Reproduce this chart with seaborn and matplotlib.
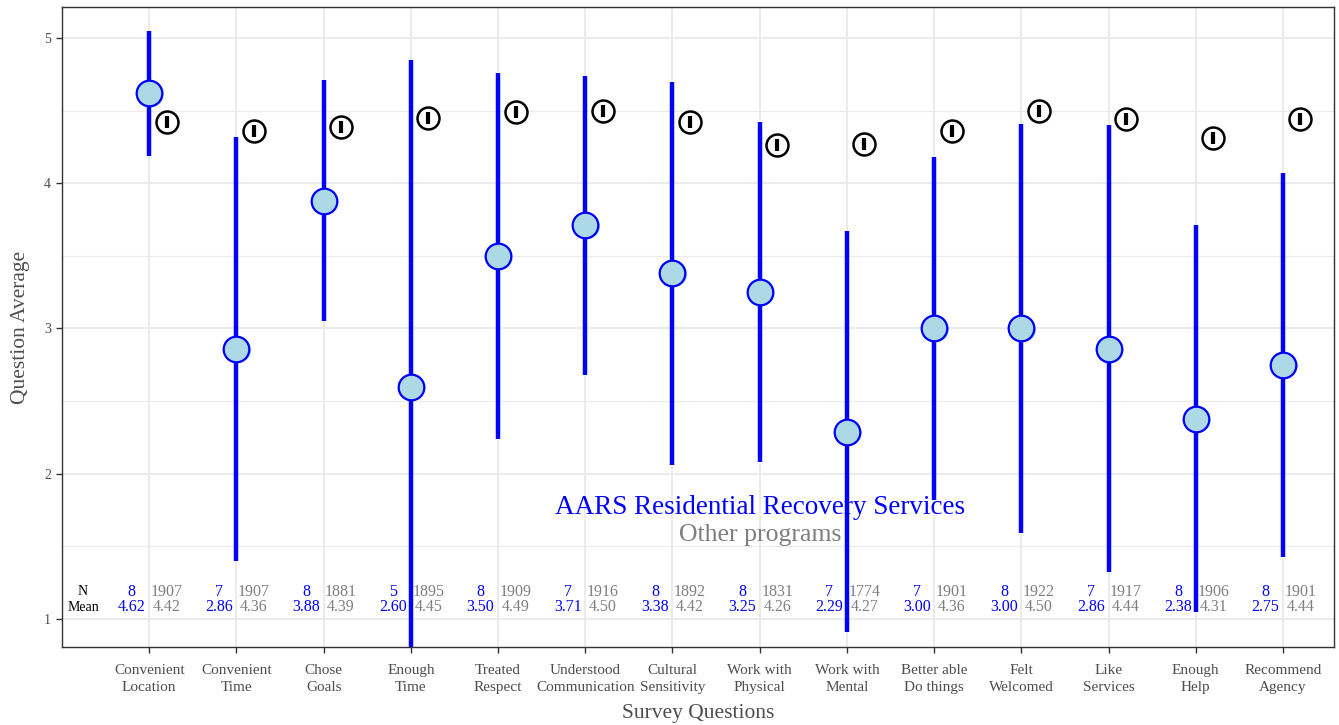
import matplotlib
matplotlib.use("Agg")
import matplotlib.pyplot as plt
from matplotlib.transforms import offset_copy
from matplotlib.ticker import MultipleLocator
import numpy as np
import pandas as pd
import seaborn as sns

# Survey questions (two-line tick labels)
questions = ["Convenient\nLocation", "Convenient\nTime", "Chose\nGoals", "Enough\nTime",
             "Treated\nRespect", "Understood\nCommunication", "Cultural\nSensitivity",
             "Work with\nPhysical", "Work with\nMental", "Better able\nDo things",
             "Felt\nWelcomed", "Like\nServices", "Enough\nHelp", "Recommend\nAgency"]

# Program of interest
prog_n = [8, 7, 8, 5, 8, 7, 8, 8, 7, 7, 8, 7, 8, 8]
prog_mean = [4.62, 2.86, 3.88, 2.60, 3.50, 3.71, 3.38, 3.25, 2.29, 3.00, 3.00, 2.86, 2.38, 2.75]
prog_sd = [0.43, 1.46, 0.83, 2.25, 1.26, 1.03, 1.32, 1.17, 1.38, 1.18, 1.41, 1.54, 1.33, 1.32]

# Comparison: all other programs
other_n = [1907, 1907, 1881, 1895, 1909, 1916, 1892, 1831, 1774, 1901, 1922, 1917, 1906, 1901]
other_mean = [4.42, 4.36, 4.39, 4.45, 4.49, 4.50, 4.42, 4.26, 4.27, 4.36, 4.50, 4.44, 4.31, 4.44]

program_name = "AARS Residential Recovery Services"
other_name = "Other programs"

pos = np.arange(1, len(questions) + 1)
df = pd.DataFrame({"pos": pos, "mean": prog_mean, "sd": prog_sd, "n": prog_n,
                   "other_pos": pos + 0.2, "other_mean": other_mean, "other_n": other_n})

sns.set_theme(style="whitegrid")
plt.rcParams["font.family"] = ["Liberation Serif", "DejaVu Serif"]

fig = plt.figure(figsize=(13.39, 7.25), dpi=100)
ax = fig.add_axes([62 / 1339, 1 - 647 / 725, (1334 - 62) / 1339, (647 - 7) / 725])

BLUE = "#0000FF"
GREY = "#7F7F7F"
TICKGREY = "#4D4D4D"

# Grid (major + minor), bw-style panel
ax.set_axisbelow(True)
ax.yaxis.set_minor_locator(MultipleLocator(0.5))
ax.grid(which="major", color="#EBEBEB", linewidth=1.4)
ax.grid(which="minor", axis="y", color="#EBEBEB", linewidth=0.8)

# Mean +/- SD bars
ax.vlines(df["pos"], df["mean"] - df["sd"], df["mean"] + df["sd"],
          color=BLUE, linewidth=3.2, zorder=2)

# Program means: soft halo then main point
halo = offset_copy(ax.transData, fig=fig, x=2, y=-1, units="dots")
ax.scatter(df["pos"], df["mean"], s=340, color="#ADD8E6", edgecolor="none",
           transform=halo, zorder=3)
sns.scatterplot(data=df, x="pos", y="mean", ax=ax, s=340, color="#ADD8E6",
                edgecolor=BLUE, linewidth=1.6, zorder=4, legend=False)

# Other program means: ring with a bar inside
sns.scatterplot(data=df, x="other_pos", y="other_mean", ax=ax, s=250, color="white",
                edgecolor="black", linewidth=1.8, zorder=4, legend=False)
ax.scatter(df["other_pos"], df["other_mean"], marker="|", s=70, color="black",
           linewidths=3.0, zorder=5)

# N / Mean table along the bottom
ax.text(0.24, 1.186, "N", ha="center", va="center", fontsize=10, color="black")
ax.text(0.24, 1.08, "Mean", ha="center", va="center", fontsize=10, color="black")
for p, n, m, on, om in zip(pos, prog_n, prog_mean, other_n, other_mean):
    ax.text(p - 0.2, 1.186, f"{n}", ha="center", va="center", fontsize=11.5, color=BLUE)
    ax.text(p - 0.2, 1.08, f"{m:.2f}", ha="center", va="center", fontsize=11.5, color=BLUE)
    ax.text(p + 0.2, 1.186, f"{on}", ha="center", va="center", fontsize=11.5, color=GREY)
    ax.text(p + 0.2, 1.08, f"{om:.2f}", ha="center", va="center", fontsize=11.5, color=GREY)

# Legend-style captions
ax.text(8, 1.77, program_name, ha="center", va="center", fontsize=19.5, color=BLUE)
ax.text(8, 1.575, other_name, ha="center", va="center", fontsize=18.5, color=GREY)

ax.set_xlim(0.0, 14.585)
ax.set_ylim(0.807, 5.213)
ax.set_xticks(pos)
ax.set_xticklabels(questions, fontsize=11, color=TICKGREY, linespacing=1.45)
ax.set_yticks([1, 2, 3, 4, 5])
ax.set_yticklabels(["1", "2", "3", "4", "5"], fontsize=10, color=TICKGREY)
ax.tick_params(axis="both", which="major", length=4, width=1, color="#333333",
               bottom=True, left=True)
ax.tick_params(axis="x", which="major", pad=8)
ax.tick_params(axis="y", which="major", pad=4)
ax.tick_params(axis="y", which="minor", length=0)

ax.set_xlabel("Survey Questions", fontsize=15.5, color=TICKGREY, labelpad=7)
ax.set_ylabel("Question Average", fontsize=15.5, color=TICKGREY, labelpad=10)

for sp in ax.spines.values():
    sp.set_visible(True)
    sp.set_color("#333333")
    sp.set_linewidth(1.0)

fig.savefig("out.png", dpi=100)
